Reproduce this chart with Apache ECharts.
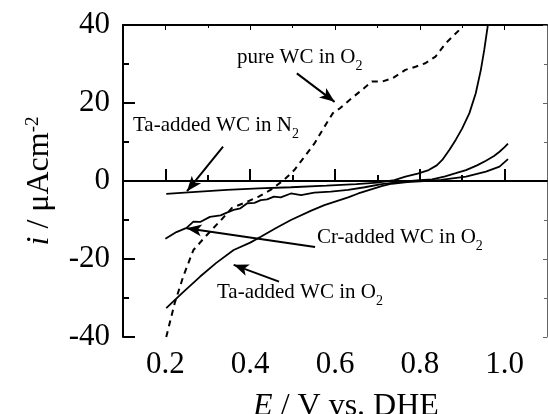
<!DOCTYPE html>
<html>
<head>
<meta charset="utf-8">
<script src="https://cdn.jsdelivr.net/npm/echarts@6/dist/echarts.min.js"></script>
<style>
html, body { margin: 0; padding: 0; background: #fff; }
#chart { width: 548px; height: 414px; }
</style>
</head>
<body>
<div id="chart"></div>
<script>
// tick positions
var xMajor = [0.2, 0.4, 0.6, 0.8, 1.0];
var xMinor = [0.3, 0.5, 0.7, 0.9];

// pure WC in O2 (dashed)
var pureE = [0.202, 0.210, 0.222, 0.242, 0.266, 0.294, 0.333, 0.357, 0.393, 0.420, 0.448, 0.480, 0.504, 0.528, 0.552, 0.575, 0.595, 0.611, 0.639, 0.663, 0.687, 0.711, 0.735, 0.766, 0.790, 0.813, 0.837, 0.861, 0.877, 0.893];
var pureI = [-40, -36.5, -31.3, -24.5, -17.7, -14.3, -9.8, -6.9, -5.3, -4.0, -2.3, 0.3, 2.8, 6.2, 9.7, 13.9, 17.4, 18.6, 21.2, 23.3, 25.5, 25.5, 26.3, 28.5, 29.3, 30.2, 31.9, 35.3, 37.0, 38.7];

// Ta-added WC in N2
var taN2E = [0.202, 0.254, 0.345, 0.420, 0.496, 0.580, 0.650, 0.700, 0.740, 0.766, 0.795, 0.821, 0.840, 0.853, 0.870, 0.885, 0.900, 0.917, 0.932, 0.944, 0.952, 0.960, 0.962];
var taN2I = [-3.3, -2.9, -2.3, -1.9, -1.6, -1.2, -0.8, -0.4, 0.2, 1.1, 1.9, 2.8, 4.0, 5.4, 8.0, 10.6, 13.5, 17.4, 22.5, 28.5, 33.6, 39.6, 41.0];

// Cr-added WC in O2
var crO2E = [0.200, 0.226, 0.250, 0.266, 0.282, 0.305, 0.330, 0.345, 0.361, 0.377, 0.393, 0.410, 0.425, 0.440, 0.456, 0.472, 0.496, 0.520, 0.551, 0.590, 0.631, 0.670, 0.710, 0.740, 0.766, 0.800, 0.829, 0.860, 0.885, 0.909, 0.935, 0.956, 0.975, 0.988, 1.000, 1.008];
var crO2I = [-14.8, -13.1, -12.0, -10.4, -10.5, -9.2, -8.8, -8.1, -7.4, -7.0, -5.7, -5.6, -4.9, -4.7, -4.0, -4.2, -3.2, -3.6, -3.0, -2.7, -2.3, -1.6, -0.8, -0.4, -0.1, 0.2, 0.4, 1.2, 2.0, 2.8, 4.0, 5.2, 6.4, 7.5, 8.7, 9.6];

// Ta-added WC in O2
var taO2E = [0.202, 0.240, 0.282, 0.320, 0.361, 0.400, 0.425, 0.460, 0.496, 0.544, 0.575, 0.631, 0.655, 0.710, 0.734, 0.770, 0.810, 0.850, 0.909, 0.956, 0.988, 1.008];
var taO2I = [-32.6, -28.7, -24.5, -21.0, -17.7, -15.8, -14.3, -12.1, -10.0, -7.6, -6.2, -4.2, -3.2, -1.3, -0.7, -0.3, 0.0, 0.3, 1.1, 2.4, 3.7, 5.6];

function zip(a, b) {
  return a.map(function (v, k) { return [v, b[k]]; });
}

var FONT = 'Liberation Serif';
var chart = echarts.init(document.getElementById('chart'));

var subRich = {
  a: { fontFamily: FONT, fontSize: 21, lineHeight: 22, verticalAlign: 'top', color: '#000' },
  b: { fontFamily: FONT, fontSize: 14, lineHeight: 14, padding: [12, 0, 0, 0], verticalAlign: 'top', color: '#000' }
};

function label(x, y, txt) {
  return {
    type: 'text', x: x, y: y, z: 100,
    style: { text: '{a|' + txt + '}{b|2}', rich: subRich, verticalAlign: 'top', align: 'left' }
  };
}

function arrow(from, to) {
  return [
    { coord: from, symbol: 'none' },
    { coord: to, symbol: 'arrow', symbolSize: [9, 15] }
  ];
}

var option = {
  animation: false,
  backgroundColor: '#fff',
  grid: { left: 123, right: 1, top: 25, bottom: 77, containLabel: false, outerBoundsMode: 'none' },
  xAxis: [
    {
      type: 'value', min: 0.1, max: 1.1, position: 'bottom',
      axisLine: { lineStyle: { color: '#000', width: 2 } },
      axisTick: { inside: true, length: 12, customValues: xMajor, lineStyle: { color: '#000', width: 2 } },
      axisLabel: { customValues: xMajor, formatter: function (v) { return v.toFixed(1); },
        fontFamily: FONT, fontSize: 31, color: '#000', margin: 12 },
      splitLine: { show: false },
      name: '{i|E} / V vs. DHE',
      nameLocation: 'middle', nameGap: 54,
      nameTextStyle: { fontFamily: FONT, fontSize: 32, color: '#000', padding: [0, 0, 0, 22],
        rich: { i: { fontFamily: FONT, fontSize: 32, fontStyle: 'italic', color: '#000' } } }
    },
    {
      type: 'value', min: 0.1, max: 1.1, position: 'bottom',
      axisLine: { show: false },
      axisTick: { inside: true, length: 6, customValues: xMinor, lineStyle: { color: '#000', width: 2 } },
      axisLabel: { show: false }, splitLine: { show: false }
    },
    {
      type: 'value', min: 0.1, max: 1.1, position: 'top',
      axisLine: { lineStyle: { color: '#000', width: 2 } },
      axisTick: { inside: true, length: 5, customValues: xMajor, lineStyle: { color: '#000', width: 1 } },
      axisLabel: { show: false }, splitLine: { show: false }
    },
    {
      type: 'value', min: 0.1, max: 1.1, position: 'top',
      axisLine: { show: false },
      axisTick: { inside: true, length: 3, customValues: xMinor, lineStyle: { color: '#000', width: 1 } },
      axisLabel: { show: false }, splitLine: { show: false }
    }
  ],
  yAxis: [
    {
      type: 'value', min: -40, max: 40, interval: 20, position: 'left',
      axisLine: { lineStyle: { color: '#000', width: 2 } },
      axisTick: { inside: true, length: 12, lineStyle: { color: '#000', width: 2 } },
      minorTick: { show: true, splitNumber: 2, length: 6, lineStyle: { color: '#000', width: 2 } },
      axisLabel: { fontFamily: FONT, fontSize: 31, color: '#000', margin: 13 },
      splitLine: { show: false }, minorSplitLine: { show: false },
      name: '{i|i} / μAcm{s|-2}',
      nameLocation: 'middle', nameGap: 67,
      nameTextStyle: { fontFamily: FONT, fontSize: 32, color: '#000',
        rich: {
          i: { fontFamily: FONT, fontSize: 32, fontStyle: 'italic', color: '#000' },
          s: { fontFamily: FONT, fontSize: 19, verticalAlign: 'top', color: '#000' }
        } }
    },
    {
      type: 'value', min: -40, max: 40, interval: 20, position: 'right',
      axisLine: { lineStyle: { color: '#666', width: 1 } },
      axisTick: { inside: true, length: 4, lineStyle: { color: '#666', width: 1 } },
      minorTick: { show: true, splitNumber: 2, length: 3, lineStyle: { color: '#666', width: 1 } },
      axisLabel: { show: false }, splitLine: { show: false }
    }
  ],
  series: [
    {
      name: 'pure WC in O2', type: 'line', showSymbol: false, clip: true,
      lineStyle: { color: '#000', width: 2, type: [6, 5] },
      data: zip(pureE, pureI)
    },
    {
      name: 'Ta-added WC in N2', type: 'line', showSymbol: false, clip: true,
      lineStyle: { color: '#000', width: 1.8 },
      data: zip(taN2E, taN2I)
    },
    {
      name: 'Cr-added WC in O2', type: 'line', showSymbol: false, clip: true,
      lineStyle: { color: '#000', width: 1.8 },
      data: zip(crO2E, crO2I)
    },
    {
      name: 'Ta-added WC in O2', type: 'line', showSymbol: false, clip: true,
      lineStyle: { color: '#000', width: 1.8 },
      data: zip(taO2E, taO2I),
      markLine: {
        silent: true, symbol: 'none', label: { show: false },
        lineStyle: { color: '#000', width: 2, type: 'solid' },
        emphasis: { disabled: true },
        data: [
          [{ coord: [0.1, 0], symbol: 'none', lineStyle: { width: 1 } }, { coord: [1.1, 0], symbol: 'none' }],
          arrow([0.510, 27.6], [0.599, 20.3]),
          arrow([0.336, 8.8], [0.251, -2.6]),
          arrow([0.553, -16.9], [0.250, -12.1]),
          arrow([0.468, -25.8], [0.361, -21.5])
        ]
      }
    }
  ],
  graphic: [
    label(237, 47, 'pure WC in O'),
    label(133, 115, 'Ta-added WC in N'),
    label(317, 227, 'Cr-added WC in O'),
    label(217, 282, 'Ta-added WC in O')
  ]
};

chart.setOption(option);
</script>
</body>
</html>
